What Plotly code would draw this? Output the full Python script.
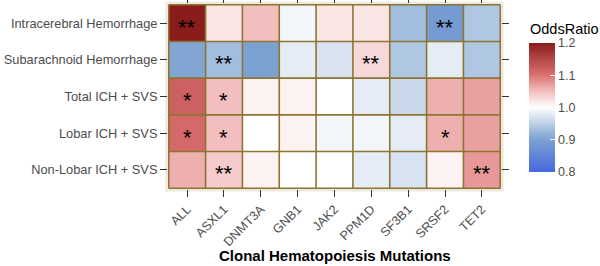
import plotly.graph_objects as go

mutations = ["ALL", "ASXL1", "DNMT3A", "GNB1", "JAK2", "PPM1D", "SF3B1", "SRSF2", "TET2"]
outcomes = ["Intracerebral Hemorrhage", "Subarachnoid Hemorrhage", "Total ICH + SVS",
            "Lobar ICH + SVS", "Non-Lobar ICH + SVS"]

odds_ich = [1.20, 1.02, 1.05, 0.99, 1.02, 1.02, 0.93, 0.89, 0.94]
odds_sah = [0.905, 0.93, 0.90, 0.98, 0.97, 1.03, 0.94, 0.98, 0.94]
odds_total = [1.12, 1.05, 1.01, 1.01, 1.00, 0.98, 0.96, 1.06, 1.07]
odds_lobar = [1.11, 1.05, 1.00, 1.01, 0.99, 0.99, 0.98, 1.06, 1.07]
odds_nonlobar = [1.06, 1.04, 1.01, 1.00, 1.00, 0.98, 0.97, 1.01, 1.075]

stars_ich = ["**", "", "", "", "", "", "", "**", ""]
stars_sah = ["", "**", "", "", "", "**", "", "", ""]
stars_total = ["*", "*", "", "", "", "", "", "", ""]
stars_lobar = ["*", "*", "", "", "", "", "", "*", ""]
stars_nonlobar = ["", "**", "", "", "", "", "", "", "**"]

z = [odds_ich, odds_sah, odds_total, odds_lobar, odds_nonlobar]
stars = [stars_ich, stars_sah, stars_total, stars_lobar, stars_nonlobar]

FONT = "Liberation Sans, Arial, sans-serif"
BORDER = "#8E7431"

colorscale = [
    [0.0, "#4768E0"],
    [0.25, "#7BA1D1"],
    [0.375, "#BCD0E6"],
    [0.5, "#FFFFFF"],
    [0.625, "#F2BEBE"],
    [0.75, "#DD7272"],
    [1.0, "#8B1C1C"],
]

fig = go.Figure()
fig.add_trace(go.Heatmap(
    z=z, x=mutations, y=outcomes,
    zmin=0.8, zmax=1.2, colorscale=colorscale,
    hoverinfo="skip",
    colorbar=dict(
        x=1.084, xanchor="left", xpad=0,
        y=0.4405, yanchor="middle", ypad=0,
        thickness=26, len=129, lenmode="pixels",
        outlinewidth=0,
        tickvals=[0.8, 0.9, 1.0, 1.1, 1.2],
        ticktext=["0.8", "0.9", "1.0", "1.1", "1.2"],
        ticks="inside", ticklen=5, tickcolor="white",
        tickfont=dict(family=FONT, size=12.5, color="#4D4D4D"),
    ),
))

# tile borders
nx, ny = len(mutations), len(outcomes)
for k in range(nx + 1):
    fig.add_shape(type="line", xref="x", yref="y", x0=k - 0.5, x1=k - 0.5, y0=-0.5, y1=ny - 0.5,
                  line=dict(color=BORDER, width=1.6), layer="above")
for k in range(ny + 1):
    fig.add_shape(type="line", xref="x", yref="y", x0=-0.5, x1=nx - 0.5, y0=k - 0.5, y1=k - 0.5,
                  line=dict(color=BORDER, width=1.6), layer="above")

for i, row in enumerate(stars):
    for j, s in enumerate(row):
        if s:
            fig.add_annotation(x=mutations[j], y=outcomes[i], text=s, showarrow=False,
                               font=dict(family=FONT, size=22, color="black"), yshift=-4)

fig.add_shape(type="rect", xref="paper", yref="paper", x0=-0.008, x1=1.008, y0=-0.014, y1=1.012,
              fillcolor="#ECEADF", line=dict(width=0), layer="below")

fig.add_annotation(xref="paper", yref="paper", x=0.5, y=-0.357, xanchor="center", yanchor="middle",
                   text="<b>Clonal Hematopoiesis Mutations</b>", showarrow=False,
                   font=dict(family=FONT, size=15, color="black"))

fig.add_annotation(xref="paper", yref="paper", x=1.082, y=0.865, xanchor="left", yanchor="middle",
                   text="OddsRatio", showarrow=False,
                   font=dict(family=FONT, size=14.5, color="black"))

fig.update_layout(
    width=600, height=266,
    margin=dict(l=168, r=99, t=4, b=77, autoexpand=False),
    paper_bgcolor="white",
    plot_bgcolor="#ECEADF",
    font=dict(family=FONT, color="#4D4D4D"),
    xaxis=dict(
        range=[-0.52, nx - 0.48], showgrid=False, zeroline=False,
        ticks="outside", ticklen=7, tickwidth=1.2, tickcolor="#333333",
        mirror="ticks", showline=False,
        tickangle=-45, tickfont=dict(family=FONT, size=12.6, color="#4D4D4D"),
    ),
    yaxis=dict(
        range=[ny - 0.48, -0.52], showgrid=False, zeroline=False,
        ticks="outside", ticklen=7, tickwidth=1.2, tickcolor="#333333",
        mirror="ticks", showline=False,
        tickfont=dict(family=FONT, size=12.8, color="#4D4D4D"),
    ),
)

fig.write_html("out.html", config={"displayModeBar": False},
               post_script="document.body.style.margin='0';document.body.style.overflow='hidden';")
